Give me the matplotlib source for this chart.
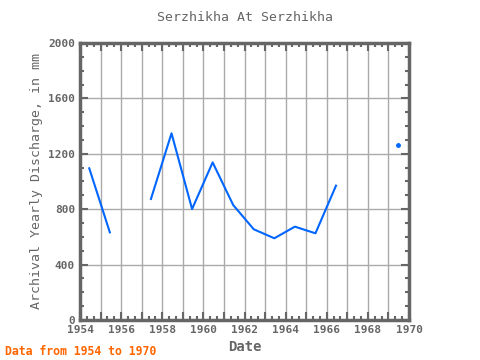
import numpy as np
import matplotlib.pyplot as plt
from matplotlib.ticker import MultipleLocator

years = [1954, 1955, 1956, 1957, 1958, 1959, 1960, 1961, 1962, 1963,
         1964, 1965, 1966, 1967, 1968, 1969]
discharge = [1095, 633, np.nan, 874, 1348, 801, 1138, 830, 655, 590,
             674, 626, 970, np.nan, np.nan, 1266]

grey = '#666666'
plt.rcParams['font.family'] = 'DejaVu Sans Mono'

fig = plt.figure(figsize=(4.8, 3.6), dpi=100)
ax = fig.add_axes([0.1667, 0.1111, 0.6854, 0.7695])

x = np.array(years) + 0.45
y = np.array(discharge, dtype=float)
ax.plot(x, y, color='#0066ff', lw=1.5)

# points with no neighbour get a dot
prev = np.r_[np.nan, y[:-1]]
nxt = np.r_[y[1:], np.nan]
lone = ~np.isnan(y) & np.isnan(prev) & np.isnan(nxt)
ax.plot(x[lone], y[lone], 'o', color='#0066ff', ms=2.5)

ax.set_xlim(1954, 1970)
ax.set_ylim(0, 2000)
ax.xaxis.set_minor_locator(MultipleLocator(1 / 3))
ax.yaxis.set_major_locator(MultipleLocator(400))
ax.yaxis.set_minor_locator(MultipleLocator(100))
ax.set_xticks(np.arange(1954, 1971, 1))
ax.set_xticklabels([str(v) if v % 2 == 0 else '' for v in range(1954, 1971)])

ax.grid(True, which='major', color='#aaaaaa', lw=1)
ax.tick_params(which='both', direction='in', top=True, right=True,
               color=grey, labelcolor=grey, labelsize=8)
ax.tick_params(which='major', length=6, width=1.5)
ax.tick_params(which='minor', length=3, width=1.5)
for lab in ax.get_xticklabels() + ax.get_yticklabels():
    lab.set_fontweight('bold')
for s in ax.spines.values():
    s.set_color(grey)
    s.set_linewidth(2.5)

ax.set_title('Serzhikha At Serzhikha', color=grey, fontsize=9.5, pad=16)
ax.set_xlabel('Date', color=grey, fontsize=10, fontweight='bold')
ax.set_ylabel('Archival Yearly Discharge, in mm', color=grey, fontsize=9.5)
fig.text(0.01, 0.015, 'Data from 1954 to 1970', color='#ff6600',
         fontsize=8.3, fontweight='bold')

fig.savefig('out.png', dpi=100)
